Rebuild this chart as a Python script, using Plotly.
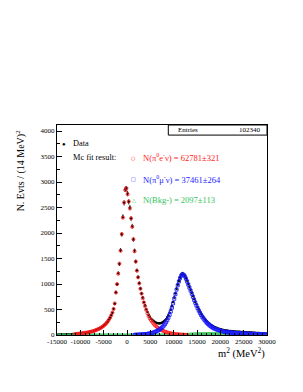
import numpy as np
import plotly.graph_objects as go

BIN_WIDTH = 250.0

# Data (black points), bin centres start at -14875
data_start = -14875.0
data_counts = [
    8, 9, 9, 10, 10, 11, 11, 12, 13, 13,
    14, 15, 16, 17, 18, 19, 21, 22, 26, 28,
    30, 35, 38, 40, 44, 46, 52, 55, 62, 66,
    74, 79, 90, 96, 108, 115, 130, 139, 158, 170,
    193, 210, 240, 262, 305, 336, 390, 435, 515, 610,
    840, 990, 1215, 1390, 1665, 1970, 2320, 2590, 2860, 2870,
    2775, 2610, 2500, 2280, 2135, 1870, 1655, 1440, 1270, 1135,
    1020, 915, 815, 735, 645, 580, 505, 450, 395, 355,
    320, 300, 280, 258, 245, 236, 230, 228, 230, 236,
    248, 262, 282, 310, 345, 385, 436, 497, 566, 648,
    734, 820, 908, 990, 1065, 1128, 1180, 1205, 1190, 1165,
    1120, 1068, 1005, 947, 888, 830, 770, 712, 654, 602,
    550, 503, 460, 419, 383, 350, 319, 292, 268, 244,
    224, 206, 189, 175, 162, 151, 142, 133, 124, 118,
    111, 104, 99, 94, 89, 85, 82, 79, 76, 74,
    72, 70, 68, 65, 64, 62, 61, 59, 57, 56,
    54, 53, 51, 50, 48, 47, 46, 44, 43, 42,
    40, 39, 38, 37, 35, 34, 33, 31, 31, 30,
]

# pi0 e nu component (red)
ke3_start = -11125.0
ke3_counts = [
    18, 20, 22, 25, 28, 31, 34, 37, 40, 43,
    47, 51, 56, 61, 67, 73, 80, 88, 97, 106,
    117, 128, 141, 155, 172, 190, 212, 237, 266, 300,
    340, 385, 440, 510, 620, 830, 1000, 1200, 1400, 1650,
    1980, 2300, 2600, 2840, 2880, 2760, 2620, 2480, 2290, 2120,
    1880, 1640, 1440, 1260, 1130, 1010, 905, 810, 720, 635,
    560, 490, 425, 370, 325, 290, 258, 228, 200, 178,
    158, 140, 124, 110, 97, 86, 76, 66, 58, 51,
    44, 38, 33, 28, 24, 21, 18, 15, 13, 11,
    9, 8, 7, 6, 5, 4, 3,
]

# pi0 mu nu component (blue)
kmu3_start = 1625.0
kmu3_counts = [
    3, 4, 5, 6, 7, 9, 10, 12, 14, 16,
    19, 22, 26, 30, 35, 41, 48, 56, 65, 75,
    87, 101, 117, 136, 158, 183, 213, 248, 290, 338,
    395, 460, 535, 620, 710, 800, 890, 975, 1050, 1115,
    1165, 1190, 1180, 1150, 1105, 1050, 990, 930, 870, 810,
    750, 690, 632, 578, 526, 478, 434, 393, 356, 322,
    291, 263, 238, 215, 194, 176, 159, 144, 131, 122,
    112, 103, 95, 88, 81, 75, 69, 64, 60, 56,
    53, 50, 48, 46, 44, 42, 40, 38, 37, 35,
    34, 32, 31, 30, 28, 27, 26, 25, 24, 23,
    22, 21, 20, 19, 18, 17, 16, 15, 14, 13,
    12, 11, 11, 10,
]

# background component (green)
bkg_start = -14875.0
bkg_counts = [
    0, 0, 0, 0, 0, 0, 0, 0, 0, 0, 0, 0, 0, 0, 0, 0, 0, 0, 0, 0,
    0, 0, 0, 0, 0, 0, 0, 0, 0, 0, 0, 0, 0, 0, 0, 0, 0, 0, 0, 0,
    0, 0, 0, 0, 0, 0, 0, 0, 0, 0, 0, 0, 0, 0, 0, 0, 0, 0, 0, 0,
    0, 0, 0, 0, 0, 0, 0, 0, 0, 0, 0, 0, 0, 0, 0, 0, 0, 0, 0, 0,
    0, 0, 0, 0, 0, 0, 0, 0, 0, 0, 0, 0, 0, 0, 0, 0, 0, 0, 0, 0,
    0, 0, 0,
    1, 2, 3, 4, 5, 6, 7, 9, 11, 12,
    14, 16, 18, 19, 21, 22, 23, 24, 25, 26,
    27, 27, 28, 28, 29, 29, 29,
    30, 30, 30, 30, 30, 30, 30, 30, 30, 30, 30, 30, 30, 30,
    29, 29, 29, 29, 29,
    28, 28, 28, 28, 28,
    27, 27, 27, 27,
    26, 26, 26, 26,
    25, 25, 25,
    24, 24, 24,
    23, 23, 23,
    22, 22, 22,
    21, 21, 21,
    20, 20, 20,
]

assert len(data_counts) == 180
assert len(ke3_counts) == 97
assert len(kmu3_counts) == 114
assert len(bkg_counts) == 180

x_ticks = [-15000, -10000, -5000, 0, 5000, 10000, 15000, 20000, 25000, 30000]
y_ticks = [0, 500, 1000, 1500, 2000, 2500, 3000, 3500, 4000]

entries = "102340"
legend_texts = [
    "N(π<sup>0</sup>e<sup>-</sup>ν) = 62781±321",
    "N(π<sup>0</sup>μ<sup>-</sup>ν) = 37461±264",
    "N(Bkg-) = 2097±113",
]

RED = "#ff1a1a"
BLUE = "#1a1aff"
GREEN = "#33c35a"
FONT = "Liberation Serif"


def centres(start, n):
    return start + BIN_WIDTH * np.arange(n)


fig = go.Figure()

fig.add_trace(go.Scatter(
    x=centres(data_start, len(data_counts)), y=data_counts,
    mode="markers",
    marker=dict(symbol="circle", size=2.6, color="black"),
    error_y=dict(type="data", array=np.sqrt(data_counts), color="black",
                 thickness=0.8, width=0),
    showlegend=False,
))
fig.add_trace(go.Scatter(
    x=centres(bkg_start, len(bkg_counts)), y=bkg_counts,
    mode="markers",
    marker=dict(symbol="triangle-up-open", size=3, color=GREEN,
                line=dict(width=0.8, color=GREEN)),
    showlegend=False,
))
fig.add_trace(go.Scatter(
    x=centres(ke3_start, len(ke3_counts)), y=ke3_counts,
    mode="markers",
    marker=dict(symbol="circle-open", size=3, color=RED,
                line=dict(width=0.9, color=RED)),
    showlegend=False,
))
fig.add_trace(go.Scatter(
    x=centres(kmu3_start, len(kmu3_counts)), y=kmu3_counts,
    mode="markers",
    marker=dict(symbol="square-open", size=3, color=BLUE,
                line=dict(width=0.9, color=BLUE)),
    showlegend=False,
))

axis_common = dict(
    showgrid=False, zeroline=False, showline=True, linecolor="black",
    linewidth=1, mirror=True, ticks="inside", tickcolor="black",
    tickwidth=0.8, tickfont=dict(family=FONT, size=7, color="black"),
)

fig.update_xaxes(
    range=[-15000, 30000], tickvals=x_ticks,
    ticktext=[str(v) for v in x_ticks], ticklen=5,
    minor=dict(ticks="inside", dtick=1000, ticklen=2.5, tickcolor="black"),
    **axis_common,
)
fig.update_yaxes(
    range=[0, 4118], tickvals=y_ticks,
    ticktext=[str(v) for v in y_ticks], ticklen=5,
    minor=dict(ticks="inside", dtick=250, ticklen=2.5, tickcolor="black"),
    **axis_common,
)

annotations = [
    dict(text="N. Evts / (14 MeV)<sup>2</sup>", x=-0.175, y=0.99,
         xref="paper", yref="paper", textangle=-90, xanchor="center",
         yanchor="top", showarrow=False,
         font=dict(family=FONT, size=10, color="black")),
    dict(text="m<sup>2</sup> (MeV<sup>2</sup>)", x=1.0, y=-0.045,
         xref="paper", yref="paper", xanchor="right", yanchor="top",
         showarrow=False, font=dict(family=FONT, size=10.5, color="black")),
    dict(text="Entries", x=0.565, y=0.976, xref="paper", yref="paper",
         xanchor="left", yanchor="middle", showarrow=False,
         font=dict(family=FONT, size=7, color="black")),
    dict(text=entries, x=0.98, y=0.976, xref="paper", yref="paper",
         xanchor="right", yanchor="middle", showarrow=False,
         font=dict(family=FONT, size=7, color="black")),
    dict(text="●", x=0.035, y=0.91, xref="paper", yref="paper",
         xanchor="center", yanchor="middle", showarrow=False,
         font=dict(family=FONT, size=6, color="black")),
    dict(text="Data", x=0.068, y=0.91, xref="paper", yref="paper",
         xanchor="left", yanchor="middle", showarrow=False,
         font=dict(family=FONT, size=8.3, color="black")),
    dict(text="Mc fit result:", x=0.068, y=0.843, xref="paper", yref="paper",
         xanchor="left", yanchor="middle", showarrow=False,
         font=dict(family=FONT, size=8.3, color="black")),
]

for sym, txt, col, yy in zip(["○", "□", "△"], legend_texts,
                             [RED, BLUE, GREEN], [0.843, 0.741, 0.643]):
    annotations.append(dict(text=sym, x=0.365, y=yy, xref="paper",
                            yref="paper", xanchor="center", yanchor="middle",
                            showarrow=False,
                            font=dict(family="DejaVu Sans", size=5, color=col)))
    annotations.append(dict(text=txt, x=0.40, y=yy, xref="paper",
                            yref="paper", xanchor="left", yanchor="middle",
                            showarrow=False,
                            font=dict(family=FONT, size=8.5, color=col)))

fig.update_layout(
    width=303, height=392,
    margin=dict(l=57, r=36, t=125, b=57),
    paper_bgcolor="white", plot_bgcolor="white",
    annotations=annotations,
    shapes=[dict(type="rect", xref="paper", yref="paper", x0=0.53, x1=1.0,
                 y0=0.952, y1=1.0, line=dict(color="black", width=1),
                 fillcolor="white")],
    showlegend=False,
)

fig.write_html(
    "out.html",
    config={"displayModeBar": False},
    post_script="document.body.style.margin='0px';"
                "document.body.style.padding='0px';",
)
